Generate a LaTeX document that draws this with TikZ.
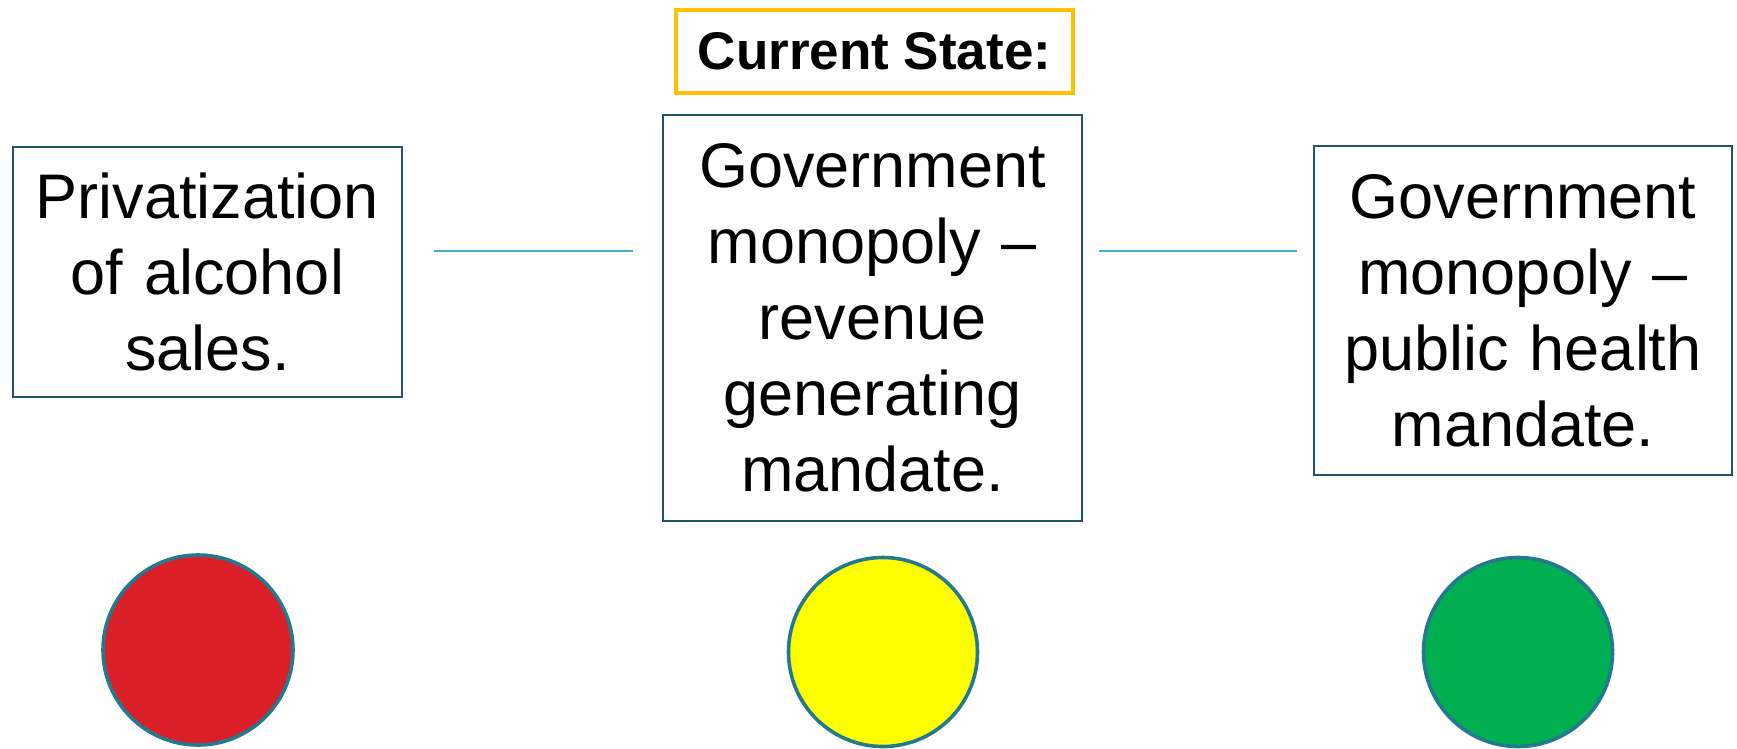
\documentclass[tikz,border=0pt]{standalone}
\usepackage{fontspec}
\setmainfont{Liberation Sans}
\usepackage{tikz}
\usetikzlibrary{positioning}
\definecolor{boxline}{HTML}{1F5566}
\definecolor{ringline}{HTML}{23798E}
\definecolor{linkline}{HTML}{4BACC6}
\definecolor{goldline}{HTML}{FFC000}
\definecolor{stopred}{HTML}{DA1F28}
\definecolor{waityellow}{HTML}{FFFF00}
\definecolor{gogreen}{HTML}{00B050}
\begin{document}
\begin{tikzpicture}[x=1pt, y=-1pt,
    stage/.style={draw=boxline, line width=2.2pt, align=center, inner sep=0pt,
      font=\fontsize{63}{76}\selectfont},
    light/.style={circle, draw=ringline, line width=3.6pt, inner sep=0pt},
    link/.style={draw=linkline, line width=2.6pt}]

    \useasboundingbox (0, 0) rectangle (1737, 748);

    \node [draw=goldline, line width=4.5pt, minimum width=397pt, minimum height=83pt,
      font=\fontsize{53}{64}\selectfont\bfseries] (current) at (874.5, 51.5) {Current State:};

    \node [stage, text width=389pt, minimum height=250pt] (privat) at (207.5, 272)
    {Privatization\\of alcohol\\sales.};

    \node [stage, text width=419pt, minimum height=406pt] (revenue) at (872.5, 318)
    {Government\\monopoly --\\revenue\\generating\\mandate.};

    \node [stage, text width=418pt, minimum height=329pt] (health) at (1523, 310.5)
    {Government\\monopoly --\\public health\\mandate.};

    \coordinate (linky) at (0, 251);
    \draw [link, shorten <=31pt, shorten >=29pt] (privat.east |- linky) -- (revenue.west |- linky);
    \draw [link, shorten <=16pt, shorten >=16pt] (revenue.east |- linky) -- (health.west |- linky);

    \node [light, fill=stopred, minimum size=190pt] (redlight) at (198, 650) {};
    \node [light, fill=waityellow, minimum size=189pt] (yellowlight) at (883, 652) {};
    \node [light, fill=gogreen, minimum size=189pt] (greenlight) at (1518, 652) {};

  \end{tikzpicture}
\end{document}
